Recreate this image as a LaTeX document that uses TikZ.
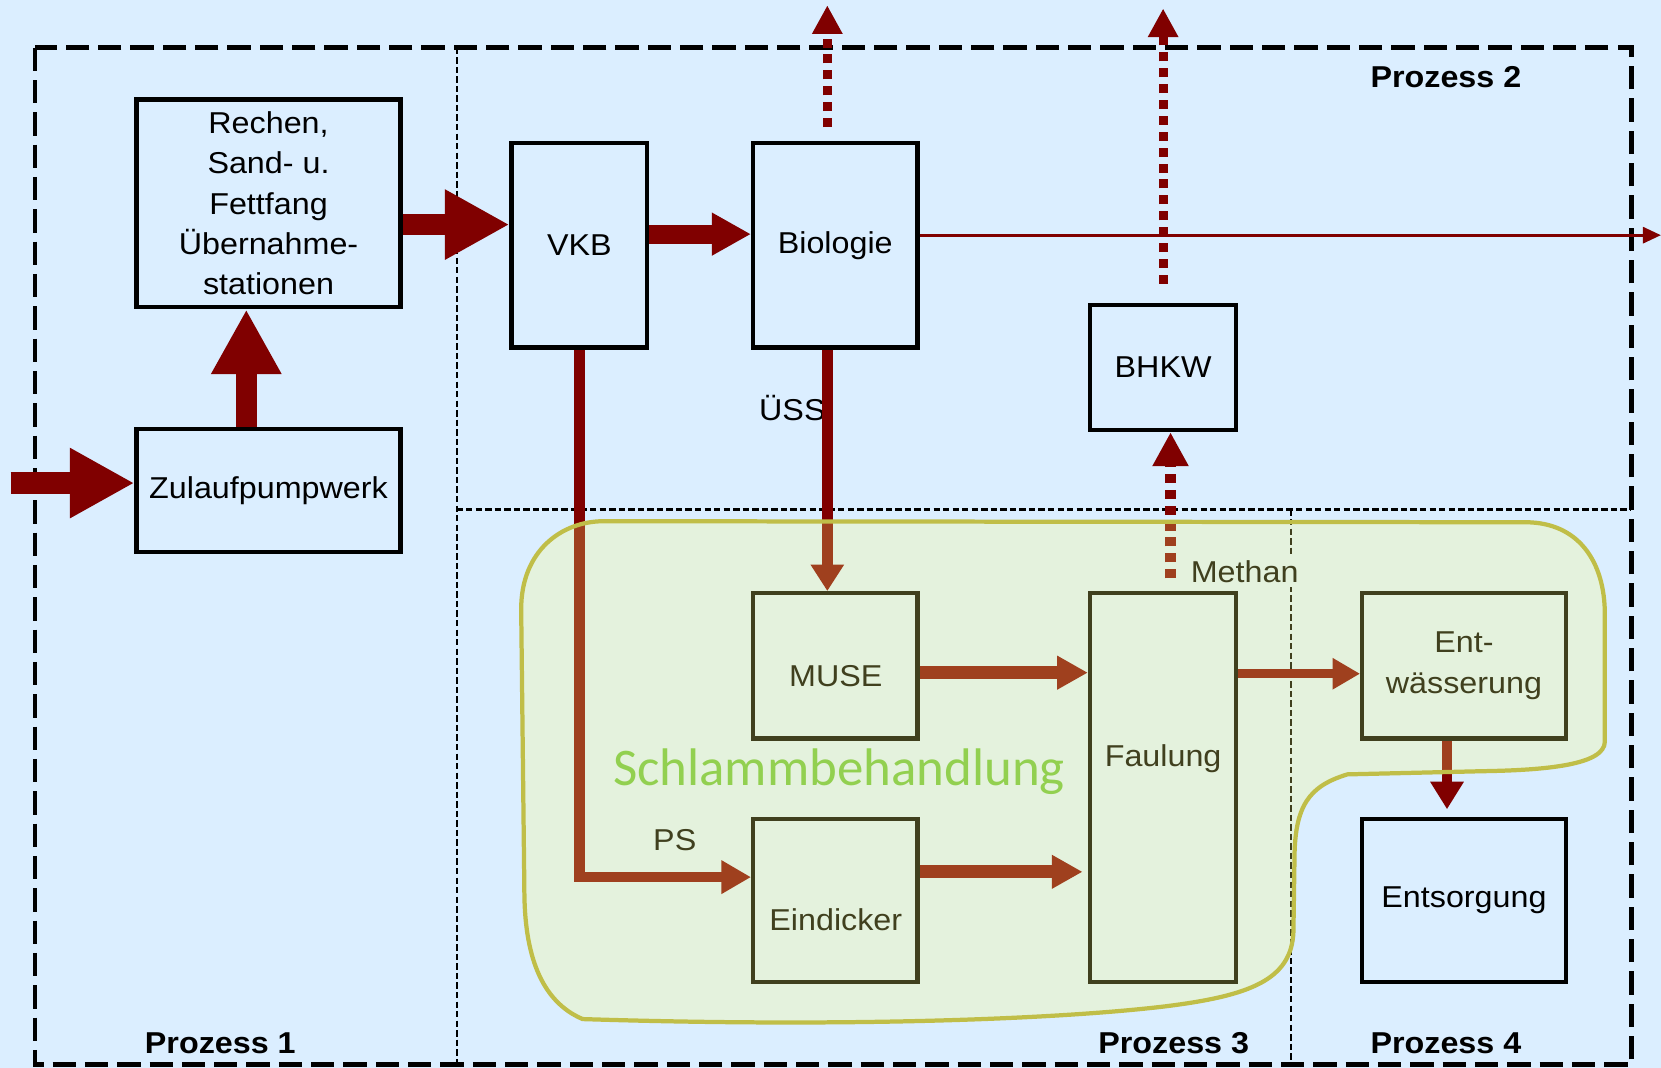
\documentclass[tikz,border=0pt]{standalone}
\usepackage{fontspec}
\setmainfont{Liberation Sans}[FakeStretch=1.07]
\newfontfamily\carl{Carlito}
\usetikzlibrary{arrows.meta,calc}
\definecolor{bgblue}{RGB}{219,238,255}
\definecolor{dred}{RGB}{128,0,0}
\definecolor{olivel}{RGB}{192,190,72}
\definecolor{tint}{RGB}{255,255,120}
\definecolor{sgreen}{RGB}{146,208,80}
\begin{document}
\begin{tikzpicture}[x=0.01cm,y=-0.01cm,
  boxn/.style={draw=black, line width=0.04cm, inner sep=0pt, align=center, font=\fontsize{8.1}{10.8}\selectfont},
  lbl/.style={inner sep=1pt, font=\fontsize{8.1}{10.8}\selectfont},
  proz/.style={inner sep=0pt, font=\fontsize{8.1}{10.8}\selectfont\bfseries},
  bigarrow/.style={dred, line width=0.2cm, -{Triangle[length=0.61cm,width=0.62cm]}},
  medarrow/.style={dred, line width=0.1cm, -{Triangle[length=0.27cm,width=0.30cm]}},
  dotarrow/.style={dred, line width=0.085cm, dash pattern=on 0.085cm off 0.065cm, -{Triangle[length=0.27cm,width=0.27cm]}},
  sepline/.style={black, line width=0.02cm, dash pattern=on 0.06cm off 0.03cm}]
\useasboundingbox (0,0) rectangle (1568,1008);
\fill[bgblue] (0,0) rectangle (1568,1008);
% separators
\draw[sepline] (431,45) -- (431,1005);
\draw[sepline] (431,481) -- (1540,481);
\draw[sepline] (1219,481) -- (1219,1005);
\draw[line width=0.045cm, dash pattern=on 0.22cm off 0.085cm] (33,45) rectangle (1540,1005);
% boxes
\node[boxn, minimum width=2.49cm, minimum height=1.96cm] (rechen) at (253.5,192) {Rechen,\\Sand- u.\\Fettfang\\Übernahme-\\stationen};
\node[boxn, minimum width=2.49cm, minimum height=1.16cm] (zulauf) at (253.5,463) {Zulaufpumpwerk};
\node[boxn, minimum width=1.28cm, minimum height=1.93cm] (vkb) at (547,231.5) {VKB};
\node[boxn, minimum width=1.55cm, minimum height=1.93cm] (bio) at (788.5,231.5) {Biologie};
\node[boxn, minimum width=1.38cm, minimum height=1.18cm] (bhkw) at (1098,347) {BHKW};
\node[boxn, minimum width=1.55cm, minimum height=1.37cm] (muse) at (788.5,628.5) {};
\node[lbl] (museT) at (789,638) {MUSE};
\node[boxn, minimum width=1.38cm, minimum height=3.67cm] (faul) at (1098,743.5) {};
\node[lbl] (faulT) at (1098,716) {Faulung};
\node[boxn, minimum width=1.92cm, minimum height=1.37cm] (entw) at (1382,628.5) {Ent-\\wässerung};
\node[boxn, minimum width=1.92cm, minimum height=1.54cm] (entsorg) at (1382,850) {Entsorgung};
\node[boxn, minimum width=1.55cm, minimum height=1.54cm] (eind) at (788.5,850) {};
\node[lbl] (eindT) at (789,868) {Eindicker};
% labels
\node[lbl] (uss) at (748,385) {ÜSS};
\node[lbl] (ps) at (637,793) {PS};
\node[lbl, fill=bgblue] (methan) at (1175,540) {Methan};
\node[proz] (p1) at (208,985) {Prozess 1};
\node[proz] (p2) at (1365,73) {Prozess 2};
\node[proz] (p3) at (1108,985) {Prozess 3};
\node[proz] (p4) at (1365,985) {Prozess 4};
% arrows
\coordinate (in) at (10,456);
\draw[bigarrow] (in) -- (zulauf.west |- in);
\draw[bigarrow] ($(zulauf.north)+(-21,0)$) -- ($(rechen.south)+(-21,0)$);
\draw[bigarrow] ($(rechen.east)+(0,20)$) -- ($(vkb.west)+(0,-19.5)$);
\draw[bigarrow, line width=0.18cm, -{Triangle[length=0.37cm,width=0.38cm]}] ($(vkb.east)+(0,-10.5)$) -- ($(bio.west)+(0,-10.5)$);
\coordinate (out) at (1568,222);
\draw[dred, line width=0.03cm, -{Triangle[length=0.17cm,width=0.15cm]}] (bio.east |- out) -- (out);
\coordinate (bioup) at (781,5);
\draw[dotarrow] ($(bio.north)+(-7.5,-13)$) -- (bioup);
\coordinate (bhkwup) at (1098,8);
\draw[dotarrow] ($(bhkw.north)+(0,-18)$) -- (bhkwup);
\draw[dotarrow, line width=0.1cm, -{Triangle[length=0.32cm,width=0.32cm]}] ($(faul.north)+(7,-12)$) -- ($(bhkw.south)+(7,0)$);
\coordinate (pstgt) at ($(eind.west)+(0,-22)$);
\draw[medarrow, -{Triangle[length=0.28cm,width=0.30cm]}] (vkb.south) -- (vkb.south |- pstgt) -- (pstgt);
\draw[medarrow, -{Triangle[length=0.25cm,width=0.30cm]}] ($(bio.south)+(-7.5,0)$) -- ($(muse.north)+(-7.5,0)$);
\draw[medarrow, line width=0.12cm, -{Triangle[length=0.29cm,width=0.30cm]}] ($(muse.east)+(0,6.5)$) -- ($(muse.east -| faul.west)+(0,6.5)$);
\draw[medarrow, line width=0.12cm, -{Triangle[length=0.29cm,width=0.30cm]}] ($(eind.east)+(0,-27)$) -- ($(eind.east -| faul.west)+(-5,-27)$);
\coordinate (fe) at ($(entw.west)+(0,7.5)$);
\draw[medarrow, line width=0.08cm, -{Triangle[length=0.26cm,width=0.28cm]}] (faul.east |- fe) -- (fe);
\draw[medarrow, -{Triangle[length=0.26cm,width=0.30cm]}] ($(entw.south)+(-16,0)$) -- ($(entsorg.north)+(-16,-7)$);
% sludge treatment area (translucent overlay)
\draw[draw=olivel, fill=tint, fill opacity=0.25, line width=0.04cm]
  (492,575) .. controls (492,520) and (530,492) .. (570,492)
  -- (1440,493) .. controls (1490,493) and (1515,530) .. (1515,580)
  -- (1515,700) .. controls (1515,722) and (1460,727) .. (1400,728)
  -- (1272,731) .. controls (1236,742) and (1222,760) .. (1222,812)
  -- (1221,880) .. controls (1219,925) and (1180,940) .. (1100,950)
  .. controls (1000,962) and (800,970) .. (550,962)
  .. controls (510,945) and (495,900) .. (495,840)
  -- cycle;
\node[text=sgreen, font=\carl\fontsize{14.2}{17}\selectfont, inner sep=0pt] (schlamm) at (792,728) {Schlammbehandlung};
\end{tikzpicture}
\end{document}
